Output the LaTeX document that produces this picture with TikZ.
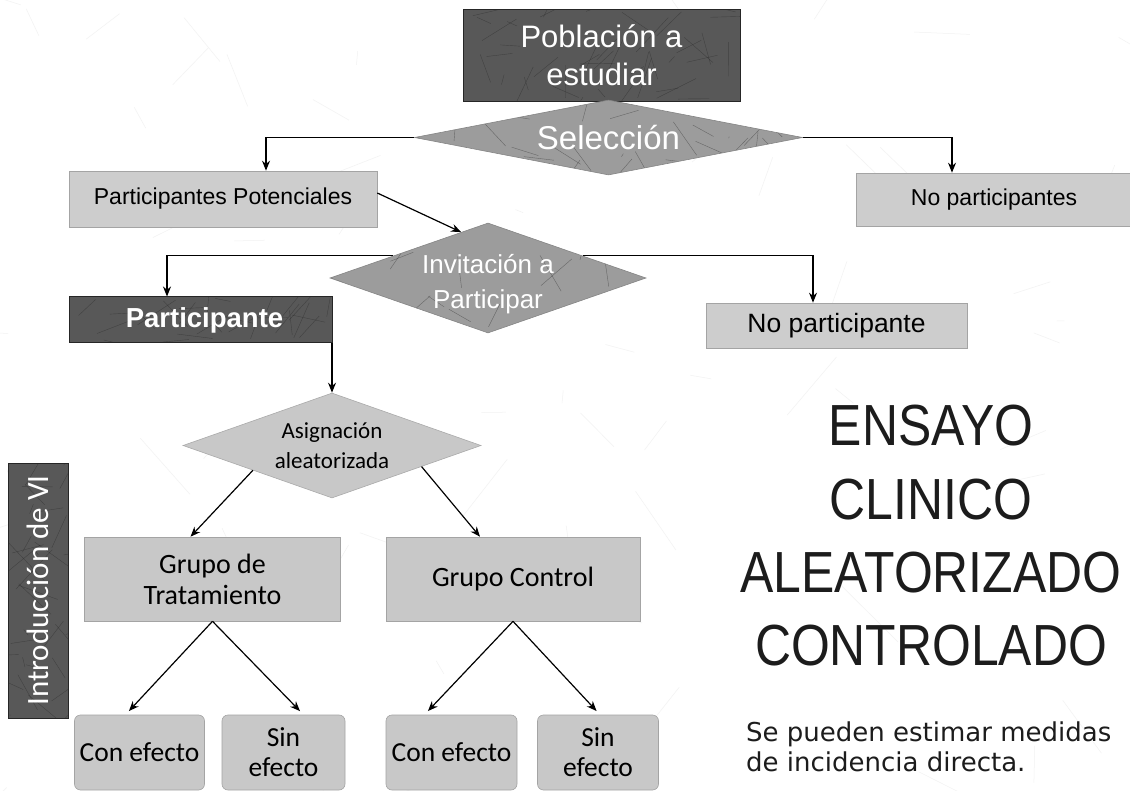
\documentclass[tikz,border=0pt]{standalone}
\usepackage{fontspec}
\setmainfont{Liberation Sans}
\newfontfamily\calib{Carlito}
\newfontfamily\dejavu{DejaVu Sans}
\usetikzlibrary{shapes.geometric,arrows.meta,calc}
\definecolor{dk}{HTML}{585858}
\definecolor{md}{HTML}{9C9C9C}
\definecolor{lt}{HTML}{CDCDCD}
\definecolor{la}{HTML}{C8C8C8}
\definecolor{tt}{HTML}{1C1C1C}
\begin{document}
\begin{tikzpicture}[x=1pt,y=-1pt,
  arr/.style={-{Stealth[length=10pt,width=8pt]}, line width=1.2pt, black},
  scratch/.style n args={3}{path picture={
    \foreach \k in {1,...,#1}{
      \draw[black!85, line width=0.4pt, opacity=0.45]
        ($(path picture bounding box.center)+({(rnd-0.5)*#2*1pt},{(rnd-0.5)*#3*1pt})$)
        -- ++({(rnd-0.5)*80*1pt},{(rnd-0.5)*80*1pt});
    }}},
  dark/.style={rectangle, fill=dk, draw=black!85, line width=1pt, text=white, inner sep=0pt},
  light/.style={rectangle, fill=lt, draw=lt!80!black, line width=0.6pt, text=black, inner sep=0pt},
  rnd/.style={light, rounded corners=6pt},
  dia/.style={diamond, inner sep=0pt, fill=#1, draw=#1!85!black, line width=0.6pt},
]
\pgfmathsetseed{11}
\useasboundingbox (0,0) rectangle (1130,791);
\fill[white] (0,0) rectangle (1130,791);
% faint scratches on the paper
\foreach \k in {1,...,70}{
  \draw[black!5, line width=0.5pt] ({rnd*1130},{rnd*791}) -- ++({(rnd-0.5)*120},{(rnd-0.5)*120});
}

% top of the flow: population and selection
\node[dark, scratch={45}{300}{100}, minimum width=277pt, minimum height=92pt, align=center,
      font=\fontsize{31}{38}\selectfont] (pob) at (601.5,55.5) {Población a\\estudiar};
\node[dia=md, scratch={30}{400}{80}, minimum width=388pt, minimum height=75pt, shape aspect=5.2,
      text=white, font=\fontsize{33}{33}\selectfont] (sel) at (608.5,137.5) {Selección};

\node[light, minimum width=308pt, minimum height=56pt, font=\fontsize{23}{23}\selectfont]
      (pp) at (223,199) {Participantes Potenciales};
\node[light, minimum width=276pt, minimum height=53pt, font=\fontsize{23}{23}\selectfont]
      (np) at (994,199.5) {No participantes};

% invitation (text sits a little below the centre of the diamond)
\node[dia=md, scratch={30}{320}{110}, minimum width=316pt, minimum height=110pt, shape aspect=2.8,
      text=white, font=\fontsize{26}{35}\selectfont] (inv) at (488,278)
      {\raisebox{-12.5pt}[15pt][15pt]{\begin{tabular}{@{}c@{}}Invitación a\\Participar\end{tabular}}};
\node[dark, scratch={30}{270}{50}, minimum width=263pt, minimum height=46pt,
      font=\bfseries\fontsize{27.5}{27.5}\selectfont] (part) at (200.5,320)
      {\hspace*{8pt}Participante};
\node[light, minimum width=261pt, minimum height=45pt, font=\fontsize{26.5}{26.5}\selectfont]
      (npe) at (836.5,325.5) {No participante};

% randomisation
\node[dia=la, minimum width=298pt, minimum height=105pt, shape aspect=2.8, align=center,
      font=\calib\fontsize{23}{30}\selectfont] (asig) at (332,445.5) {Asignación\\aleatorizada};
\node[light, fill=la, minimum width=256pt, minimum height=84pt, align=center,
      font=\calib\fontsize{28}{31}\selectfont] (gt) at (212.5,579) {Grupo de\\Tratamiento};
\node[light, fill=la, minimum width=254pt, minimum height=84pt,
      font=\calib\fontsize{28}{31}\selectfont] (gc) at (513,579) {Grupo Control};

% outcomes
\tikzset{outc/.style={rnd, fill=la, minimum height=75pt, align=center,
      font=\calib\fontsize{27.5}{30}\selectfont}}
\node[outc, minimum width=130pt] (ce1) at (139.5,752.5) {Con efecto};
\node[outc, minimum width=123pt] (se1) at (283.5,752.5) {Sin\\efecto};
\node[outc, minimum width=131pt] (ce2) at (451.5,752.5) {Con efecto};
\node[outc, minimum width=121pt] (se2) at (598,752.5) {Sin\\efecto};

% side label
\node[dark, scratch={35}{300}{80}, rotate=90, minimum width=255pt, minimum height=60pt,
      font=\calib\fontsize{31}{31}\selectfont] (intro) at (38,590.5) {Introducción de VI};

% title and note
\node[anchor=north, inner sep=0pt, align=center, text=tt, xscale=0.86,
      font=\fontsize{58}{73.3}\selectfont] (title) at (931,405)
      {ENSAYO\\CLINICO\\ALEATORIZADO\\CONTROLADO};
\node[anchor=north west, inner sep=0pt, align=left, text=tt,
      font=\dejavu\fontsize{26}{30}\selectfont] (note) at (746,722)
      {Se pueden estimar medidas\\de incidencia directa.};

% connectors
\draw[arr] (sel.west) -| ([xshift=43pt]pp.north);
\draw[arr] (sel.east) -| ([xshift=-42pt]np.north);
\draw[arr] ([yshift=6pt]pp.east) -- ($(inv.west)!0.83!(inv.north)$);
\draw[arr] ($(inv.west)!0.4!(inv.north)$) -| ([xshift=-33.5pt]part.north);
\draw[arr] ($(inv.east)!0.4!(inv.north)$) -| ([xshift=-23.5pt]npe.north);
\draw[arr] (part.south -| asig.north) -- (asig.north);
\draw[arr] ($(asig.west)!0.47!(asig.south)$) -- ([xshift=-22pt]gt.north);
\draw[arr] ($(asig.east)!0.4!(asig.south)$) -- ([xshift=-33pt]gc.north);
\draw[arr, shorten >=5pt] (gt.south) -- ([xshift=-14pt]ce1.north);
\draw[arr, shorten >=5pt] (gt.south) -- ([xshift=20pt]se1.north);
\draw[arr, shorten >=5pt] (gc.south) -- ([xshift=-27pt]ce2.north);
\draw[arr, shorten >=5pt] (gc.south) -- ([xshift=2pt]se2.north);
\end{tikzpicture}
\end{document}
